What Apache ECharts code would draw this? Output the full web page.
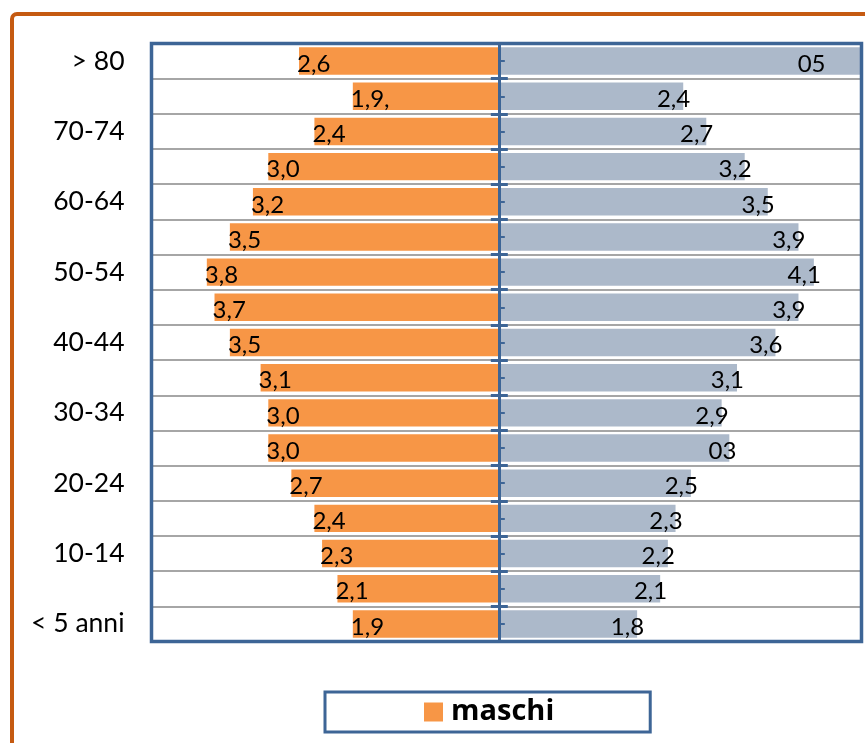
<!DOCTYPE html>
<html>
<head>
<meta charset="utf-8">
<script src="https://cdn.jsdelivr.net/npm/echarts@6/dist/echarts.min.js"></script>
<style>
html,body{margin:0;padding:0;background:#fff;}
#chart{width:865px;height:743px;}
</style>
</head>
<body>
<div id="chart"></div>
<script>
// Age classes, top to bottom as in the picture
const ageClassesTopDown = ['> 80','75-79','70-74','65-69','60-64','55-59','50-54','45-49','40-44','35-39','30-34','25-29','20-24','15-19','10-14','5-9','< 5 anni'];
// Males (%), top to bottom
const maschiTopDown = [2.6,1.9,2.4,3.0,3.2,3.5,3.8,3.7,3.5,3.1,3.0,3.0,2.7,2.4,2.3,2.1,1.9];
const maschiLabelsTopDown = ['2,6','1,9,','2,4','3,0','3,2','3,5','3,8','3,7','3,5','3,1','3,0','3,0','2,7','2,4','2,3','2,1','1,9'];
// Females (%), top to bottom
const femmineTopDown = [5.0,2.4,2.7,3.2,3.5,3.9,4.1,3.9,3.6,3.1,2.9,3.0,2.5,2.3,2.2,2.1,1.8];
const femmineLabelsTopDown = ['05','2,4','2,7','3,2','3,5','3,9','4,1','3,9','3,6','3,1','2,9','03','2,5','2,3','2,2','2,1','1,8'];
const legendItems = ['maschi'];

const cats = ageClassesTopDown.slice().reverse();
const maschi = maschiTopDown.slice().reverse();
const maschiLabels = maschiLabelsTopDown.slice().reverse();
const femmine = femmineTopDown.slice().reverse();
const femmineLabels = femmineLabelsTopDown.slice().reverse();

const BLUE = '#3D6596';
const ORANGE = '#F79646';
const GREY = '#ACB9CA';
const FONT = 'Lato, "Open Sans", sans-serif';

const chart = echarts.init(document.getElementById('chart'), null, {renderer: 'canvas'});

function centerAxis(extra) {
  return Object.assign({
    type: 'category',
    data: cats,
    position: 'left',
    z: 6,
    axisLine: {show: true, onZero: true, onZeroAxisIndex: 0, lineStyle: {color: BLUE, width: 3}},
    axisLabel: {show: false},
    splitLine: {show: false}
  }, extra);
}

const femData = femmine.map((v, i) => {
  if (v > 4.72) {
    return {value: v, label: {offset: [-36, 3]}};
  }
  return v;
});

const option = {
  backgroundColor: '#ffffff',
  animation: false,
  graphic: [{
    type: 'rect',
    shape: {x: 12, y: 14, width: 900, height: 800, r: 5},
    style: {fill: 'none', stroke: '#C55A11', lineWidth: 4},
    z: -10
  }],
  grid: {
    left: 151.5, right: 3.5, top: 43.5, bottom: 101.5,
    show: true, borderColor: BLUE, borderWidth: 3.5, backgroundColor: 'transparent',
    z: 8
  },
  legend: {
    data: legendItems,
    left: 325, top: 692,
    padding: [5, 96, 5, 99],
    itemWidth: 19, itemHeight: 19, itemGap: 12,
    icon: 'rect',
    borderColor: BLUE, borderWidth: 3,
    backgroundColor: '#fff',
    textStyle: {fontFamily: '"Open Sans", sans-serif', fontWeight: 'bold', fontSize: 29, color: '#000', padding: [0, 0, 0, 3], lineHeight: 30}
  },
  xAxis: {
    type: 'value', min: -4.52, max: 4.72,
    axisLine: {show: false}, axisTick: {show: false}, axisLabel: {show: false}, splitLine: {show: false}
  },
  yAxis: [
    {
      type: 'category',
      data: cats,
      position: 'left',
      axisLine: {show: false, onZero: false},
      axisTick: {show: false},
      axisLabel: {interval: 1, fontFamily: FONT, fontSize: 26.5, color: '#000', margin: 27},
      splitLine: {show: true, interval: 0, lineStyle: {color: '#A6A6A6', width: 2}}
    },
    centerAxis({axisTick: {show: true, interval: 0, inside: false, length: 8, lineStyle: {color: BLUE, width: 3}}}),
    centerAxis({axisTick: {show: true, interval: 0, inside: true, length: 9, lineStyle: {color: BLUE, width: 3}}}),
    centerAxis({axisTick: {show: true, interval: 0, inside: true, alignWithLabel: true, length: 6, lineStyle: {color: BLUE, width: 2}}})
  ],
  series: [
    {
      name: 'maschi',
      type: 'bar',
      yAxisIndex: 0,
      data: maschi.map(v => -v),
      barCategoryGap: '22%',
      barGap: '-100%',
      itemStyle: {color: ORANGE},
      label: {
        show: true, position: 'insideLeft', distance: 0, offset: [-2, 3],
        fontFamily: FONT, fontSize: 24, color: '#000',
        formatter: p => maschiLabels[p.dataIndex]
      },
      z: 2
    },
    {
      name: 'femmine',
      type: 'bar',
      yAxisIndex: 0,
      data: femData,
      barCategoryGap: '22%',
      barGap: '-100%',
      itemStyle: {color: GREY},
      label: {
        show: true, position: 'insideRight', distance: 0, offset: [7, 3],
        fontFamily: FONT, fontSize: 24, color: '#000',
        formatter: p => femmineLabels[p.dataIndex]
      },
      z: 2
    }
  ]
};
chart.setOption(option);
</script>
</body>
</html>
